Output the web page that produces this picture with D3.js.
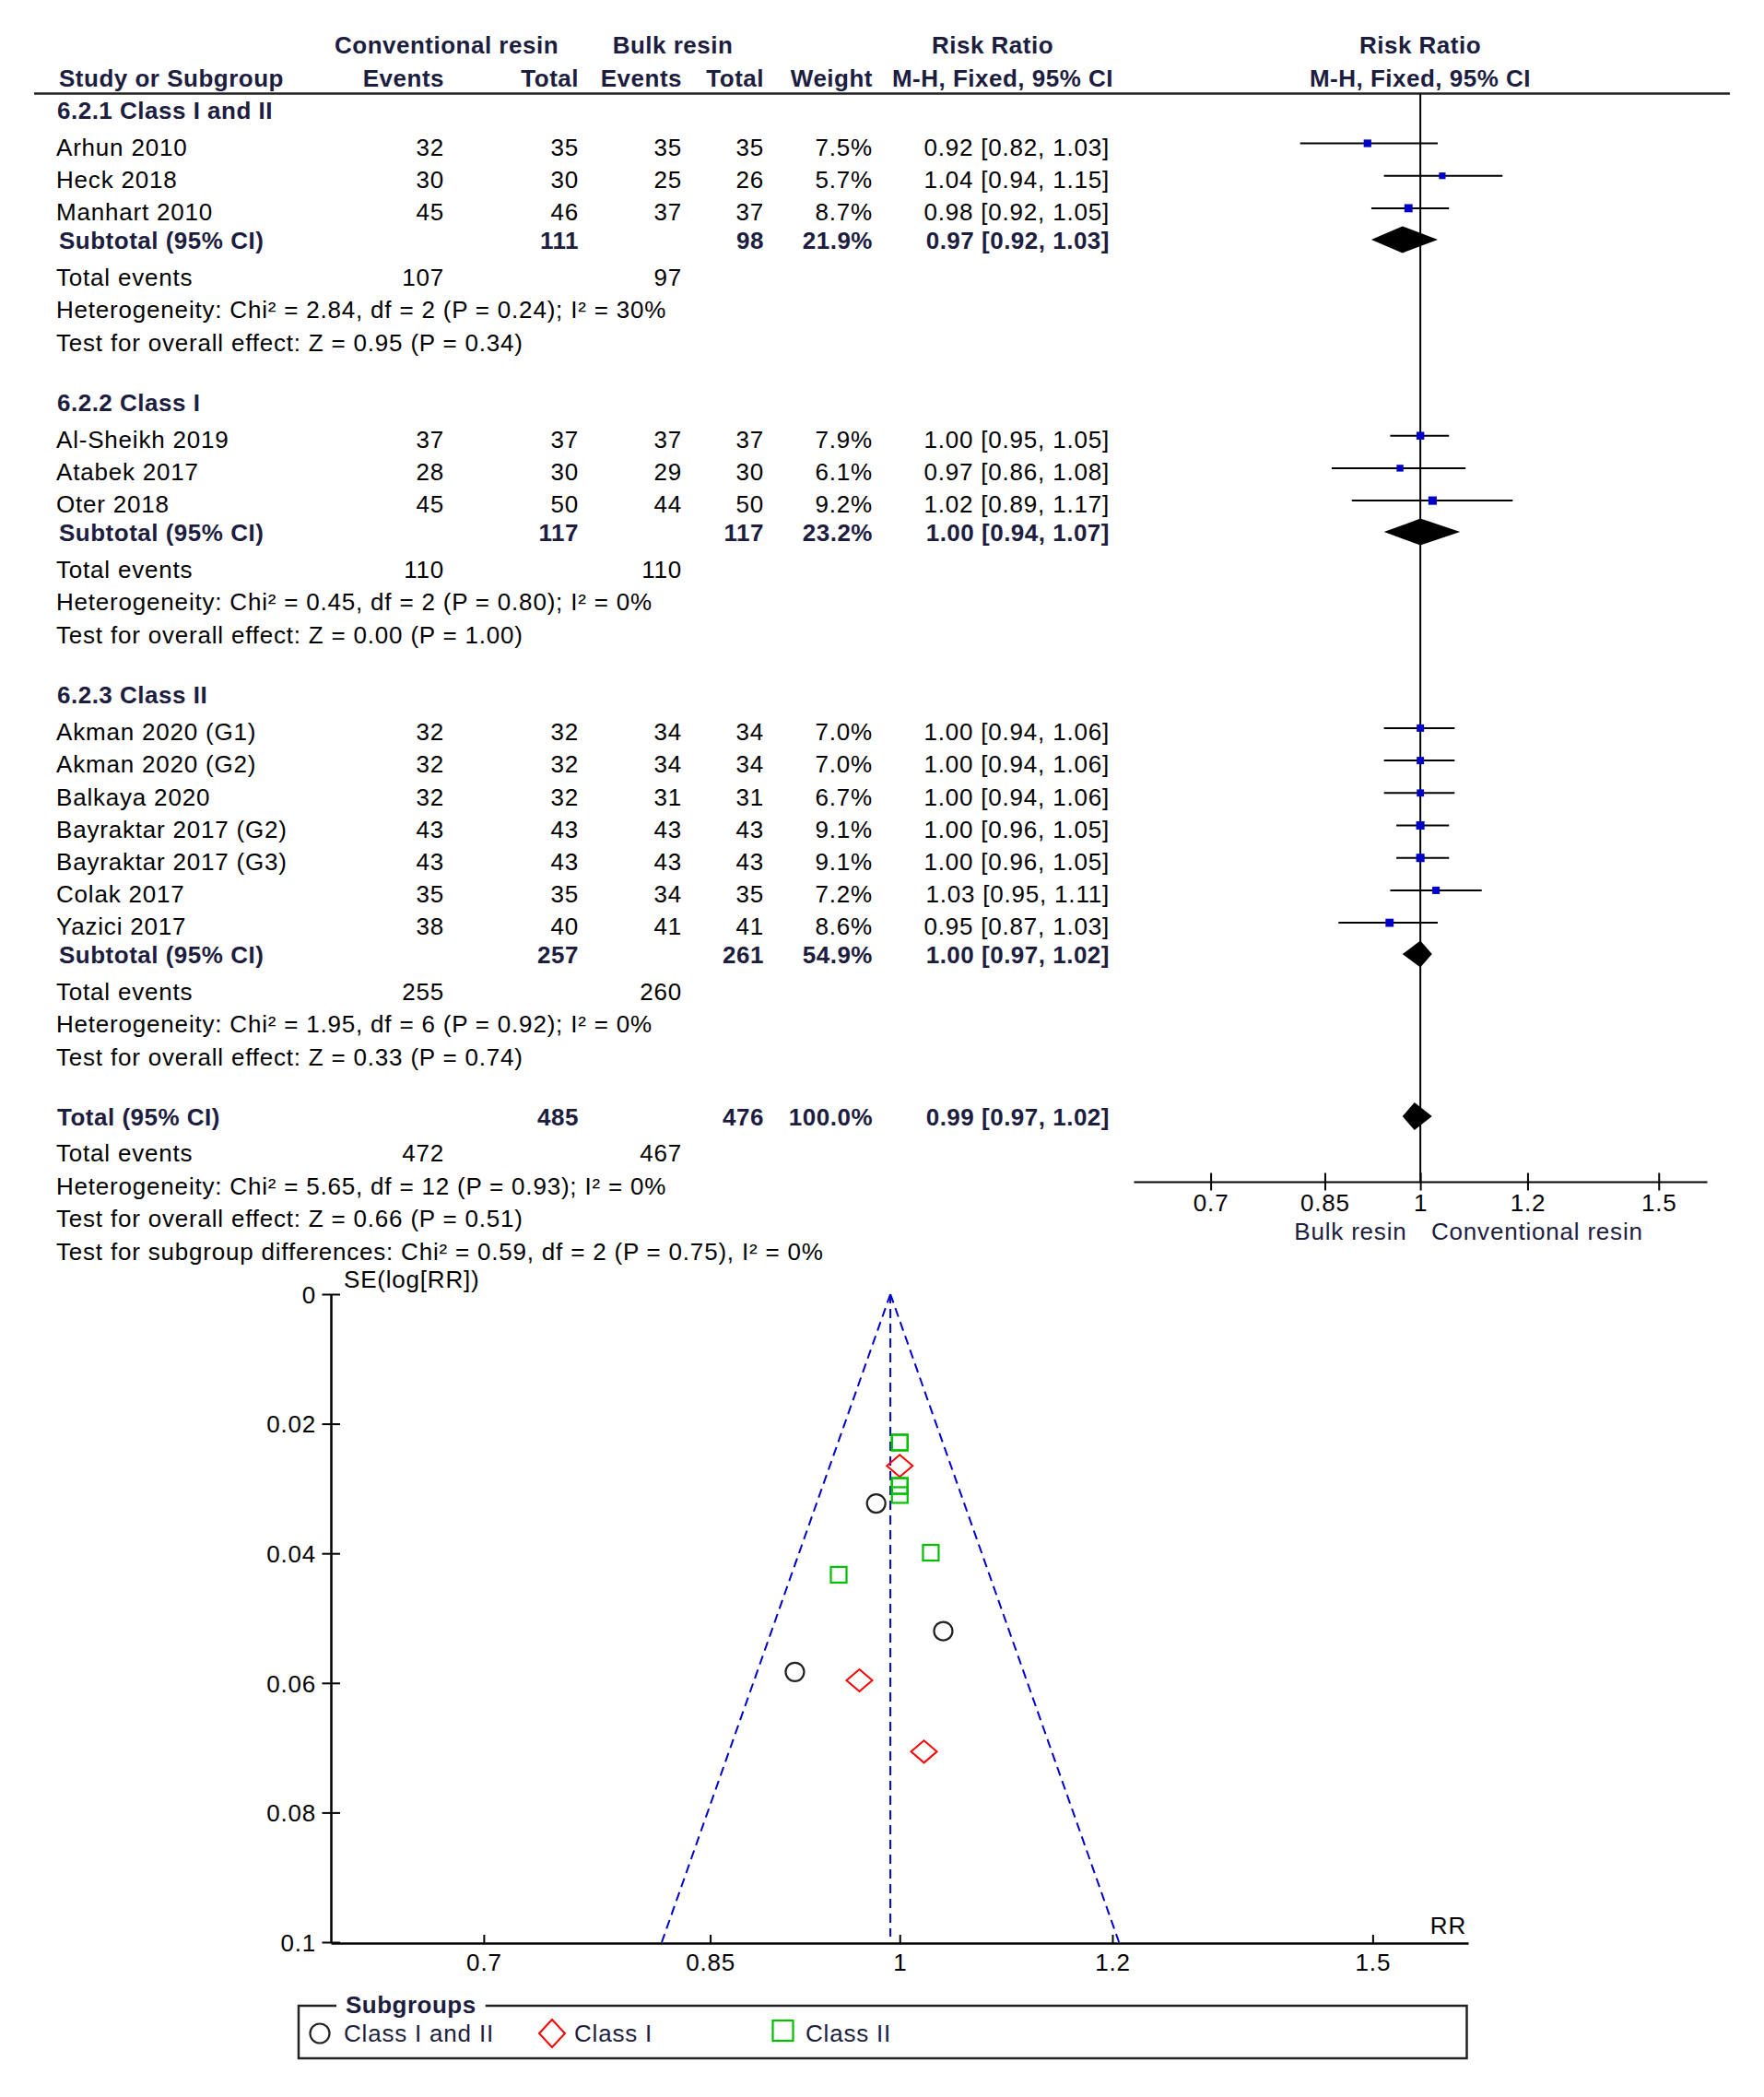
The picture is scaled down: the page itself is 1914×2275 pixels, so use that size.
<!DOCTYPE html>
<html><head><meta charset="utf-8">
<script src="https://cdn.jsdelivr.net/npm/d3@7"></script>
<style>
body{margin:0;background:#fff}
text{font-family:"Liberation Sans",Arial,sans-serif}
</style>
</head><body>
<svg id="c" width="1914" height="2275"></svg>
<script>
// ---------------- DATA ----------------
const subgroupNames = ["6.2.1 Class I and II", "6.2.2 Class I", "6.2.3 Class II"];
const studies = ["Arhun 2010","Heck 2018","Manhart 2010",
  "Al-Sheikh 2019","Atabek 2017","Oter 2018",
  "Akman 2020 (G1)","Akman 2020 (G2)","Balkaya 2020","Bayraktar 2017 (G2)","Bayraktar 2017 (G3)","Colak 2017","Yazici 2017"];
const subgroupOf = [0,0,0,1,1,1,2,2,2,2,2,2,2];
const convEvents = [32,30,45,37,28,45,32,32,32,43,43,35,38];
const convTotal  = [35,30,46,37,30,50,32,32,32,43,43,35,40];
const bulkEvents = [35,25,37,37,29,44,34,34,31,43,43,34,41];
const bulkTotal  = [35,26,37,37,30,50,34,34,31,43,43,35,41];
const weights    = [7.5,5.7,8.7,7.9,6.1,9.2,7.0,7.0,6.7,9.1,9.1,7.2,8.6];
const rr     = [0.914,1.038,0.98,1.00,0.966,1.021,1.00,1.00,1.00,1.00,1.00,1.027,0.949];
const ciLow  = [0.815,0.94,0.92,0.95,0.86,0.89,0.94,0.94,0.94,0.96,0.96,0.95,0.87];
const ciHigh = [1.03,1.15,1.05,1.05,1.08,1.17,1.06,1.06,1.06,1.05,1.05,1.11,1.03];
const ciText = ["0.92 [0.82, 1.03]","1.04 [0.94, 1.15]","0.98 [0.92, 1.05]",
  "1.00 [0.95, 1.05]","0.97 [0.86, 1.08]","1.02 [0.89, 1.17]",
  "1.00 [0.94, 1.06]","1.00 [0.94, 1.06]","1.00 [0.94, 1.06]","1.00 [0.96, 1.05]","1.00 [0.96, 1.05]","1.03 [0.95, 1.11]","0.95 [0.87, 1.03]"];
const seLogRR = [0.0583,0.0520,0.0323,0.0265,0.0596,0.0706,0.0296,0.0296,0.0310,0.0229,0.0229,0.0399,0.0433];

const subConvTotal  = [111,117,257];
const subBulkTotal  = [98,117,261];
const subWeight     = ["21.9%","23.2%","54.9%"];
const subRR   = [0.97,1.00,1.00];
const subLow  = [0.92,0.94,0.97];
const subHigh = [1.03,1.07,1.02];
const subCIText = ["0.97 [0.92, 1.03]","1.00 [0.94, 1.07]","1.00 [0.97, 1.02]"];
const subConvEvents = [107,110,255];
const subBulkEvents = [97,110,260];
const subHet  = ["Heterogeneity: Chi² = 2.84, df = 2 (P = 0.24); I² = 30%",
                 "Heterogeneity: Chi² = 0.45, df = 2 (P = 0.80); I² = 0%",
                 "Heterogeneity: Chi² = 1.95, df = 6 (P = 0.92); I² = 0%"];
const subTest = ["Test for overall effect: Z = 0.95 (P = 0.34)",
                 "Test for overall effect: Z = 0.00 (P = 1.00)",
                 "Test for overall effect: Z = 0.33 (P = 0.74)"];

const totalConvTotal = 485, totalBulkTotal = 476, totalWeight = "100.0%";
const totalRR = 0.99, totalLow = 0.97, totalHigh = 1.02, totalCIText = "0.99 [0.97, 1.02]";
const totalConvEvents = 472, totalBulkEvents = 467;
const totalLines = ["Heterogeneity: Chi² = 5.65, df = 12 (P = 0.93); I² = 0%",
                    "Test for overall effect: Z = 0.66 (P = 0.51)",
                    "Test for subgroup differences: Chi² = 0.59, df = 2 (P = 0.75), I² = 0%"];
const pooledRR = 0.992;   // funnel centre line
const rrTicks = [0.7, 0.85, 1, 1.2, 1.5];
const seTicks = [0, 0.02, 0.04, 0.06, 0.08, 0.1];
const legendLabels = ["Class I and II", "Class I", "Class II"];

// ---------------- SETUP ----------------
const svg = d3.select("#c");
const FS = 26, NAVY = "#1d1d3f", BLK = "#000";
const BASE = 9.3; // centre -> baseline

function txt(x, y, s, o = {}) {
  return (o.parent || svg).append("text")
    .attr("x", x).attr("y", y + BASE)
    .attr("font-size", o.size || FS)
    .attr("font-weight", o.bold ? "bold" : "normal")
    .attr("letter-spacing", o.bold ? 0.5 : 0.8)
    .attr("text-anchor", o.anchor || "start")
    .attr("fill", o.color || (o.bold ? NAVY : BLK))
    .text(s);
}

// columns
const xName = 61, xCE = 482, xCT = 628, xBE = 740, xBT = 829, xW = 947, xCI = 1204;

// headers
txt(484.5, 49, "Conventional resin", {bold:true, anchor:"middle"});
txt(730, 49, "Bulk resin", {bold:true, anchor:"middle"});
txt(1077, 49, "Risk Ratio", {bold:true, anchor:"middle"});
txt(1541, 49, "Risk Ratio", {bold:true, anchor:"middle"});
txt(64, 85, "Study or Subgroup", {bold:true});
txt(xCE, 85, "Events", {bold:true, anchor:"end"});
txt(xCT, 85, "Total", {bold:true, anchor:"end"});
txt(xBE, 85, "Events", {bold:true, anchor:"end"});
txt(xBT, 85, "Total", {bold:true, anchor:"end"});
txt(xW, 85, "Weight", {bold:true, anchor:"end"});
txt(1088, 85, "M-H, Fixed, 95% CI", {bold:true, anchor:"middle"});
txt(1541, 85, "M-H, Fixed, 95% CI", {bold:true, anchor:"middle"});
svg.append("line").attr("x1", 37).attr("x2", 1877).attr("y1", 101.5).attr("y2", 101.5)
  .attr("stroke", "#222").attr("stroke-width", 2.5);

// row layout
const studyY = [], subY = [];
let y = 119.2;
const forestX = d3.scaleLog().domain([0.614, 1.628]).range([1230, 1852]);

subgroupNames.forEach((g, gi) => {
  txt(xName + 1, y, g, {bold:true});
  const idx = studies.map((s, i) => i).filter(i => subgroupOf[i] === gi);
  idx.forEach((i, k) => { studyY[i] = y + 40.3 + k * 35.2; });
  const last = studyY[idx[idx.length - 1]];
  subY[gi] = last + 31;
  const teY = subY[gi] + 39.5, hetY = teY + 35.5, testY = hetY + 35.5;
  idx.forEach(i => {
    const yy = studyY[i];
    txt(xName, yy, studies[i]);
    txt(xCE, yy, convEvents[i], {anchor:"end"});
    txt(xCT, yy, convTotal[i], {anchor:"end"});
    txt(xBE, yy, bulkEvents[i], {anchor:"end"});
    txt(xBT, yy, bulkTotal[i], {anchor:"end"});
    txt(xW, yy, weights[i].toFixed(1) + "%", {anchor:"end"});
    txt(xCI, yy, ciText[i], {anchor:"end"});
  });
  txt(xName + 3, subY[gi], "Subtotal (95% CI)", {bold:true});
  txt(xCT, subY[gi], subConvTotal[gi], {bold:true, anchor:"end"});
  txt(xBT, subY[gi], subBulkTotal[gi], {bold:true, anchor:"end"});
  txt(xW, subY[gi], subWeight[gi], {bold:true, anchor:"end"});
  txt(xCI, subY[gi], subCIText[gi], {bold:true, anchor:"end"});
  txt(xName, teY, "Total events");
  txt(xCE, teY, subConvEvents[gi], {anchor:"end"});
  txt(xBE, teY, subBulkEvents[gi], {anchor:"end"});
  txt(xName, hetY, subHet[gi]);
  txt(xName, testY, subTest[gi]);
  y = testY + 65;
});
const totalY = y;
txt(xName + 1, totalY, "Total (95% CI)", {bold:true});
txt(xCT, totalY, totalConvTotal, {bold:true, anchor:"end"});
txt(xBT, totalY, totalBulkTotal, {bold:true, anchor:"end"});
txt(xW, totalY, totalWeight, {bold:true, anchor:"end"});
txt(xCI, totalY, totalCIText, {bold:true, anchor:"end"});
txt(xName, totalY + 39.5, "Total events");
txt(xCE, totalY + 39.5, totalConvEvents, {anchor:"end"});
txt(xBE, totalY + 39.5, totalBulkEvents, {anchor:"end"});
totalLines.forEach((s, k) => txt(xName, totalY + 39.5 + 35.5 * (k + 1), s));

// ---------------- FOREST PLOT ----------------
const axisY = 1282;
const fg = svg.append("g");
fg.append("line").attr("x1", forestX(1)).attr("x2", forestX(1))
  .attr("y1", 101.5).attr("y2", axisY).attr("stroke", "#000").attr("stroke-width", 2);

studies.forEach((s, i) => {
  const yy = studyY[i] - 4;
  fg.append("line").attr("x1", forestX(ciLow[i])).attr("x2", forestX(ciHigh[i]))
    .attr("y1", yy).attr("y2", yy).attr("stroke", "#000").attr("stroke-width", 2);
  const side = Math.sqrt(weights[i]) * 3;
  fg.append("rect").attr("x", forestX(rr[i]) - side / 2).attr("y", yy - side / 2)
    .attr("width", side).attr("height", side).attr("fill", "#0000c8");
});
function diamond(lo, mid, hi, yc, hh) {
  fg.append("path").attr("d",
    `M${forestX(lo)},${yc} L${forestX(mid)},${yc - hh} L${forestX(hi)},${yc} L${forestX(mid)},${yc + hh} Z`)
    .attr("fill", "#000");
}
subgroupNames.forEach((g, gi) => diamond(subLow[gi], subRR[gi], subHigh[gi], subY[gi] - 1, 14.5));
diamond(totalLow, totalRR, totalHigh, totalY - 0.5, 15);

const fAxis = fg.append("g").attr("transform", `translate(0,${axisY})`)
  .call(d3.axisBottom(forestX).tickValues(rrTicks).tickFormat(d3.format("~g")).tickSizeInner(9).tickSizeOuter(0));
fAxis.select(".domain").attr("stroke", "#000").attr("stroke-width", 2);
fAxis.selectAll(".tick line").attr("y1", -9.5).attr("y2", 9.5).attr("stroke", "#000").attr("stroke-width", 2);
fAxis.selectAll(".tick text").attr("y", 23 + BASE).attr("dy", null)
  .attr("font-size", FS).attr("letter-spacing", 0.8).attr("fill", "#000")
  .attr("font-family", '"Liberation Sans",Arial,sans-serif');
txt(1526.5, 1336, "Bulk resin", {anchor:"end", color: NAVY});
txt(1553, 1336, "Conventional resin", {color: NAVY});

// ---------------- FUNNEL PLOT ----------------
const funX = d3.scaleLog().domain([0.614, 1.628]).range([359, 1593]);
const funY = d3.scaleLinear().domain([0, 0.1]).range([1404, 2107]);
const pg = svg.append("g");

// x axis
const xa = pg.append("g").attr("transform", `translate(0,${funY(0.1) + 1})`)
  .call(d3.axisBottom(funX).tickValues(rrTicks).tickFormat(d3.format("~g")).tickSizeInner(-9).tickSizeOuter(0));
xa.select(".domain").attr("stroke", "#000").attr("stroke-width", 2.5);
xa.selectAll(".tick line").attr("stroke", "#000").attr("stroke-width", 2);
xa.selectAll(".tick text").attr("y", 21 + BASE).attr("dy", null)
  .attr("font-size", FS).attr("letter-spacing", 0.8).attr("fill", "#000")
  .attr("font-family", '"Liberation Sans",Arial,sans-serif');

// y axis
const ya = pg.append("g").attr("transform", `translate(${funX.range()[0]},0)`)
  .call(d3.axisLeft(funY).tickValues(seTicks).tickFormat(d3.format("~g")).tickSizeInner(9.5).tickSizeOuter(0));
ya.select(".domain").attr("stroke", "#000").attr("stroke-width", 2.5);
ya.selectAll(".tick line").attr("x1", -9.5).attr("x2", 10).attr("stroke", "#000").attr("stroke-width", 2);
ya.selectAll(".tick text").attr("x", -16).attr("dy", null).attr("y", BASE)
  .attr("font-size", FS).attr("letter-spacing", 0.8).attr("fill", "#000")
  .attr("font-family", '"Liberation Sans",Arial,sans-serif');
txt(373, 1388, "SE(log[RR])");
txt(1591, 2089, "RR", {anchor:"end"});

// funnel lines
function dline(x1, y1, x2, y2) {
  pg.append("line").attr("x1", x1).attr("y1", y1).attr("x2", x2).attr("y2", y2)
    .attr("stroke", "#0000cc").attr("stroke-width", 2).attr("stroke-dasharray", "10,6").attr("fill", "none");
}
const lp = Math.log(pooledRR);
dline(funX(pooledRR), funY(0), funX(pooledRR), funY(0.1) - 6);
dline(funX(pooledRR), funY(0), funX(Math.exp(lp - 1.96 * 0.1)), funY(0.1));
dline(funX(pooledRR), funY(0), funX(Math.exp(lp + 1.96 * 0.1)), funY(0.1));

// symbols
function sym(g, type, cx, cy, big) {
  if (type === 0) {
    g.append("circle").attr("cx", cx).attr("cy", cy).attr("r", big ? 10.5 : 10)
      .attr("fill", "none").attr("stroke", "#222").attr("stroke-width", 2.2);
  } else if (type === 1) {
    const hw = 14, hh = big ? 15 : 12;
    g.append("path").attr("d", `M${cx - hw},${cy} L${cx},${cy - hh} L${cx + hw},${cy} L${cx},${cy + hh} Z`)
      .attr("fill", "none").attr("stroke", "#ff0000").attr("stroke-width", 2);
  } else {
    const s = big ? 22 : 17;
    g.append("rect").attr("x", cx - s / 2).attr("y", cy - s / 2).attr("width", s).attr("height", s)
      .attr("fill", "none").attr("stroke", "#00c000").attr("stroke-width", 2.2);
  }
}
studies.forEach((s, i) => sym(pg, subgroupOf[i], funX(rr[i]), funY(seLogRR[i]), false));

// legend
const lg = svg.append("g");
lg.append("rect").attr("x", 324).attr("y", 2176).attr("width", 1267.5).attr("height", 57)
  .attr("fill", "none").attr("stroke", "#222").attr("stroke-width", 2.5);
const bgRect = lg.append("rect").attr("fill", "#fff");
const sgText = txt(375, 2175, "Subgroups", {bold:true, parent: lg});
const bb = sgText.node().getBBox();
bgRect.attr("x", bb.x - 10).attr("y", 2170).attr("width", bb.width + 20).attr("height", 12);
const legX = [347, 599, 849.5], legTX = [373, 623, 874];
legendLabels.forEach((l, k) => {
  sym(lg, k, legX[k], k === 2 ? 2203 : 2206, true);
  txt(legTX[k], 2206, l, {color: NAVY, parent: lg});
});
</script>
</body></html>
